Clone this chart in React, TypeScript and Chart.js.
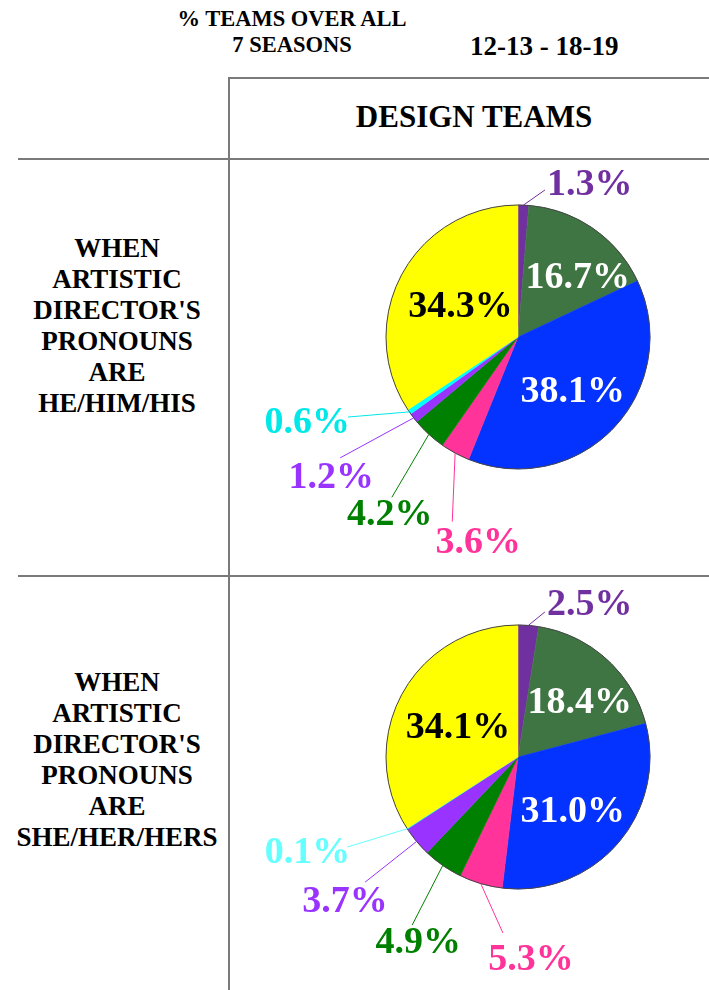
import React, { useEffect, useRef } from 'react';
import { Chart, registerables } from 'chart.js';

Chart.register(...registerables);

// ---------- data ----------
const CATEGORIES = [
  'Category 1',
  'Category 2',
  'Category 3',
  'Category 4',
  'Category 5',
  'Category 6',
  'Category 7',
  'Category 8',
];
const SLICE_COLORS = ['#7030A0', '#3F7542', '#0433FF', '#FF3399', '#008000', '#9933FF', '#00FFFF', '#FFFF00'];
const HE_VALUES = [1.3, 16.7, 38.1, 3.6, 4.2, 1.2, 0.6, 34.3];
const SHE_VALUES = [2.5, 18.4, 31.0, 5.3, 4.9, 3.7, 0.1, 34.1];
const HE_TEXT_COLORS = ['#7030A0', '#FFFFFF', '#FFFFFF', '#FF3399', '#008000', '#9933FF', '#00E8E8', '#000000'];
const SHE_TEXT_COLORS = ['#7030A0', '#FFFFFF', '#FFFFFF', '#FF3399', '#008000', '#9933FF', '#66FFFF', '#000000'];

const HEADER_LINES = ['% TEAMS OVER ALL', '7 SEASONS'];
const SEASON_RANGE = '12-13 - 18-19';
const COLUMN_TITLE = 'DESIGN TEAMS';
const HE_ROW_LABEL = ['WHEN', 'ARTISTIC', "DIRECTOR'S", 'PRONOUNS', 'ARE', 'HE/HIM/HIS'];
const SHE_ROW_LABEL = ['WHEN', 'ARTISTIC', "DIRECTOR'S", 'PRONOUNS', 'ARE', 'SHE/HER/HERS'];

// ---------- label placement (style) ----------
type LabelPlace =
  | { inside: true; shift: number; dist: number }
  | { inside: false; angle: number; dist: number; dx: number; dy: number; align: CanvasTextAlign };

const HE_PLACES: LabelPlace[] = [
  { inside: false, angle: 10.4, dist: 149.5, dx: 2, dy: 5, align: 'left' },
  { inside: true, shift: 9.3, dist: 86 },
  { inside: true, shift: 0.6, dist: 76 },
  { inside: false, angle: 199.6, dist: 196, dx: 26, dy: 31, align: 'center' },
  { inside: false, angle: 218.2, dist: 204, dx: -2, dy: 28, align: 'center' },
  { inside: false, angle: 235.8, dist: 215, dx: -9, dy: 30, align: 'center' },
  { inside: false, angle: 244.8, dist: 188, dx: 2, dy: 16, align: 'right' },
  { inside: true, shift: 1, dist: 66 },
];

const SHE_PLACES: LabelPlace[] = [
  { inside: false, angle: 10.5, dist: 147.5, dx: 2, dy: 3, align: 'left' },
  { inside: true, shift: 5.3, dist: 84 },
  { inside: true, shift: 3, dist: 76 },
  { inside: false, angle: 184.9, dist: 176.6, dx: 28, dy: 37, align: 'center' },
  { inside: false, angle: 212.2, dist: 198.6, dx: 6, dy: 28, align: 'center' },
  { inside: false, angle: 230.7, dist: 197.6, dx: -20, dy: 30, align: 'center' },
  { inside: false, angle: 242.2, dist: 193, dx: 3, dy: 16, align: 'right' },
  { inside: true, shift: -0.6, dist: 68 },
];

const SERIF = '"Liberation Serif", "Times New Roman", Times, serif';
const LABEL_FONT_SIZE = 38;
const PIE_RADIUS = 132;

function makeLabelPlugin(places: LabelPlace[], textColors: string[]) {
  return {
    id: 'pieLabels',
    afterDatasetsDraw(chart: any) {
      const ctx: CanvasRenderingContext2D = chart.ctx;
      const meta = chart.getDatasetMeta(0);
      const ds = chart.data.datasets[0];
      const first = meta.data[0];
      const { x: cx, y: cy, outerRadius: R } = first.getProps(['x', 'y', 'outerRadius'], true);
      ctx.save();
      // outer outline
      ctx.beginPath();
      ctx.arc(cx, cy, R, 0, Math.PI * 2);
      ctx.strokeStyle = '#444444';
      ctx.lineWidth = 1;
      ctx.stroke();

      ctx.font = `bold ${LABEL_FONT_SIZE}px ${SERIF}`;
      ctx.textBaseline = 'alphabetic';
      meta.data.forEach((el: any, i: number) => {
        const p = el.getProps(['startAngle', 'endAngle'], true);
        const mid = (p.startAngle + p.endAngle) / 2;
        const value = ds.data[i] as number;
        const text = value.toFixed(1) + '%';
        const place = places[i];
        ctx.fillStyle = textColors[i];
        if (place.inside) {
          const a = mid + (place.shift * Math.PI) / 180;
          const tx = cx + Math.cos(a) * place.dist;
          const ty = cy + Math.sin(a) * place.dist;
          ctx.textAlign = 'center';
          ctx.fillText(text, tx, ty + 0.33 * LABEL_FONT_SIZE);
        } else {
          const sx = cx + Math.cos(mid) * R;
          const sy = cy + Math.sin(mid) * R;
          const a = ((place.angle - 90) * Math.PI) / 180;
          const ex = cx + Math.cos(a) * place.dist;
          const ey = cy + Math.sin(a) * place.dist;
          ctx.beginPath();
          ctx.moveTo(sx, sy);
          ctx.lineTo(ex, ey);
          ctx.strokeStyle = textColors[i];
          ctx.lineWidth = 1;
          ctx.stroke();
          ctx.textAlign = place.align;
          ctx.fillText(text, ex + place.dx, ey + place.dy);
        }
      });
      ctx.restore();
    },
  };
}

type PieProps = {
  values: number[];
  textColors: string[];
  places: LabelPlace[];
  left: number;
  top: number;
  width: number;
  height: number;
  padding: { left: number; right: number; top: number; bottom: number };
};

function PieCell({ values, textColors, places, left, top, width, height, padding }: PieProps) {
  const ref = useRef<HTMLCanvasElement>(null);
  useEffect(() => {
    const chart = new Chart(ref.current as HTMLCanvasElement, {
      type: 'pie',
      data: {
        labels: CATEGORIES,
        datasets: [
          {
            data: values,
            backgroundColor: SLICE_COLORS,
            borderColor: SLICE_COLORS,
            borderWidth: 0.5,
            radius: PIE_RADIUS,
          } as any,
        ],
      },
      options: {
        animation: false,
        responsive: false,
        events: [],
        layout: { padding },
        plugins: {
          legend: { display: false },
          tooltip: { enabled: false },
        },
      },
      plugins: [makeLabelPlugin(places, textColors)],
    });
    return () => chart.destroy();
  }, []);
  return (
    <canvas
      ref={ref}
      width={width}
      height={height}
      style={{ position: 'absolute', left, top, width, height, display: 'block' }}
    />
  );
}

const lineColor = '#7a7a7a';

function TextBlock({
  lines,
  left,
  top,
  width,
  fontSize,
  lineHeight,
  align = 'center',
}: {
  lines: string[];
  left: number;
  top: number;
  width: number;
  fontSize: number;
  lineHeight: number;
  align?: 'center' | 'left';
}) {
  return (
    <div
      style={{
        position: 'absolute',
        left,
        top,
        width,
        fontFamily: SERIF,
        fontWeight: 'bold',
        fontSize,
        lineHeight: `${lineHeight}px`,
        textAlign: align,
        color: '#000',
        whiteSpace: 'nowrap',
      }}
    >
      {lines.map((l, i) => (
        <div key={i}>{l}</div>
      ))}
    </div>
  );
}

export default function App() {
  return (
    <div
      style={{
        position: 'absolute',
        left: 0,
        top: 0,
        width: 709,
        height: 990,
        background: '#fff',
        overflow: 'hidden',
      }}
    >
      {/* grid lines */}
      <div style={{ position: 'absolute', left: 228, top: 77, width: 1.5, height: 913, background: lineColor }} />
      <div style={{ position: 'absolute', left: 228, top: 77, width: 481, height: 1.5, background: lineColor }} />
      <div style={{ position: 'absolute', left: 18, top: 158, width: 691, height: 1.5, background: lineColor }} />
      <div style={{ position: 'absolute', left: 18, top: 575, width: 691, height: 1.5, background: lineColor }} />

      {/* header */}
      <TextBlock lines={HEADER_LINES} left={142} top={6.4} width={300} fontSize={22.5} lineHeight={26} />
      <TextBlock lines={[SEASON_RANGE]} left={470} top={31} width={200} fontSize={27} lineHeight={30} align="left" />
      <TextBlock lines={[COLUMN_TITLE]} left={274} top={98.5} width={400} fontSize={31} lineHeight={36} />

      {/* row labels */}
      <TextBlock lines={HE_ROW_LABEL} left={0} top={233.4} width={234} fontSize={27} lineHeight={31} />
      <TextBlock lines={SHE_ROW_LABEL} left={0} top={667.4} width={234} fontSize={27} lineHeight={31} />

      {/* pies */}
      <PieCell
        values={HE_VALUES}
        textColors={HE_TEXT_COLORS}
        places={HE_PLACES}
        left={229}
        top={159}
        width={480}
        height={415}
        padding={{ left: 157, right: 59, top: 46, bottom: 105 }}
      />
      <PieCell
        values={SHE_VALUES}
        textColors={SHE_TEXT_COLORS}
        places={SHE_PLACES}
        left={229}
        top={577}
        width={480}
        height={413}
        padding={{ left: 157, right: 59, top: 48, bottom: 101 }}
      />
    </div>
  );
}
